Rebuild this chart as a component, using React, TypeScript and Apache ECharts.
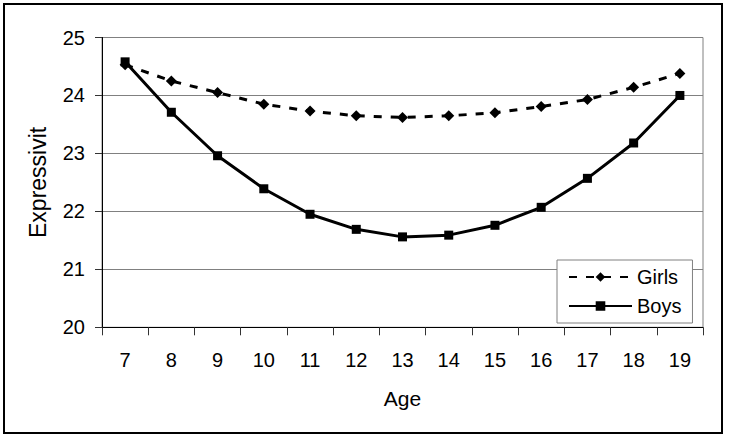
import React, { useEffect, useRef } from "react";
import * as echarts from "echarts";

const ages = ["7", "8", "9", "10", "11", "12", "13", "14", "15", "16", "17", "18", "19"];
const girls = [24.53, 24.25, 24.05, 23.85, 23.73, 23.65, 23.62, 23.65, 23.7, 23.81, 23.93, 24.14, 24.38];
const boys = [24.58, 23.71, 22.96, 22.39, 21.95, 21.69, 21.56, 21.59, 21.76, 22.07, 22.57, 23.18, 24.0];
const yMin = 20;
const yMax = 25;
const yStep = 1;

const FONT = "'Liberation Sans', Arial, sans-serif";

export default function App() {
  const ref = useRef<HTMLDivElement>(null);
  useEffect(() => {
    if (!ref.current) return;
    const chart = echarts.init(ref.current, undefined, { renderer: "svg" });
    chart.setOption({
      animation: false,
      backgroundColor: "#ffffff",
      textStyle: { fontFamily: FONT, color: "#000" },
      grid: {
        left: 102,
        right: 27,
        top: 37.5,
        bottom: 109.7,
        show: true,
        borderColor: "#808080",
        borderWidth: 1,
        backgroundColor: "transparent",
      },
      legend: {
        orient: "vertical",
        left: 557,
        top: 260,
        padding: [7, 11, 7, 11],
        itemGap: 9,
        itemWidth: 63,
        itemHeight: 12,
        backgroundColor: "#ffffff",
        borderColor: "#808080",
        borderWidth: 1,
        textStyle: { fontSize: 20, fontFamily: FONT, color: "#000" },
        data: ["Girls", "Boys"],
      },
      xAxis: {
        type: "category",
        data: ages,
        boundaryGap: true,
        name: "Age",
        nameLocation: "middle",
        nameGap: 61,
        nameTextStyle: { fontSize: 21, fontFamily: FONT, color: "#000" },
        axisLine: { show: true, lineStyle: { color: "#000", width: 1 } },
        axisTick: { show: true, length: 8, lineStyle: { color: "#333" } },
        axisLabel: { fontSize: 20, color: "#000", margin: 23, fontFamily: FONT },
        splitLine: { show: false },
      },
      yAxis: {
        type: "value",
        min: yMin,
        max: yMax,
        interval: yStep,
        name: "Expressivit",
        nameLocation: "middle",
        nameRotate: 90,
        nameGap: 53,
        nameTextStyle: { fontSize: 23, fontFamily: FONT, color: "#000" },
        axisLine: { show: true, lineStyle: { color: "#000", width: 1 } },
        axisTick: { show: true, length: 7, lineStyle: { color: "#333" } },
        axisLabel: { fontSize: 20, color: "#000", margin: 17, fontFamily: FONT },
        splitLine: { show: true, lineStyle: { color: "#808080", width: 1 } },
      },
      series: [
        {
          name: "Girls",
          type: "line",
          data: girls,
          symbol: "diamond",
          symbolSize: 11,
          itemStyle: { color: "#000" },
          lineStyle: { color: "#000", width: 3, type: [8, 9] },
          z: 2,
        },
        {
          name: "Boys",
          type: "line",
          data: boys,
          symbol: "rect",
          symbolSize: 9,
          itemStyle: { color: "#000" },
          lineStyle: { color: "#000", width: 3, type: "solid" },
          z: 3,
        },
      ],
      graphic: [
        {
          type: "rect",
          shape: { x: 4, y: 4, width: 718, height: 429 },
          style: { fill: "none", stroke: "#000", lineWidth: 2 },
          silent: true,
        },
      ],
    });
    return () => chart.dispose();
  }, []);
  return (
    <div
      ref={ref}
      style={{ position: "fixed", left: 0, top: 0, width: 730, height: 437 }}
    />
  );
}
